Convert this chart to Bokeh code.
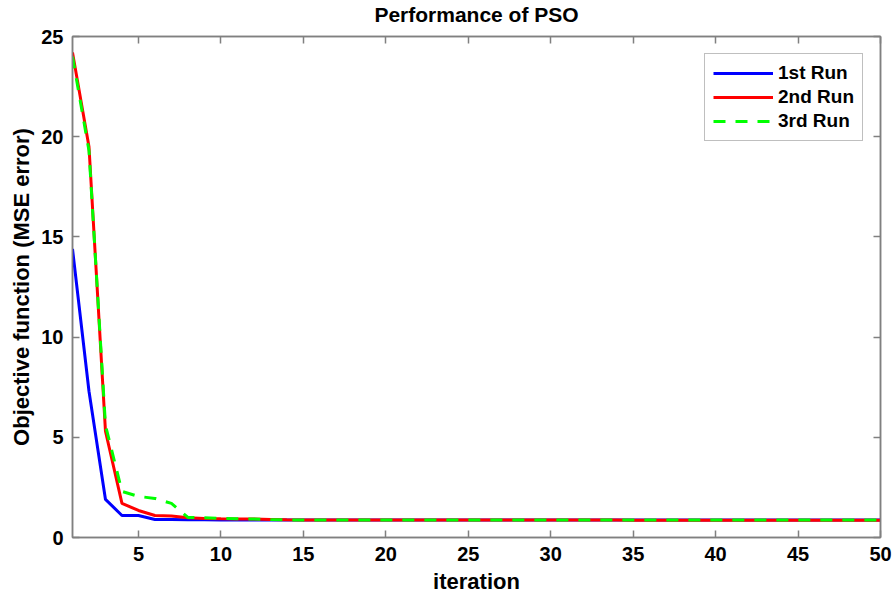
from bokeh.plotting import figure
from bokeh.models import Range1d, FixedTicker, LinearAxis, Legend, LegendItem, CustomLabelingPolicy
from bokeh.embed import file_html
from bokeh.resources import INLINE

iterations = list(range(1, 51))
run1 = [14.4, 7.3, 1.9, 1.1, 1.1, 0.9, 0.9, 0.88, 0.88, 0.87,
        0.87, 0.87, 0.87, 0.87, 0.87, 0.87, 0.87, 0.87, 0.87, 0.87,
        0.87, 0.87, 0.87, 0.87, 0.87, 0.87, 0.87, 0.87, 0.87, 0.87,
        0.87, 0.87, 0.87, 0.87, 0.87, 0.87, 0.87, 0.87, 0.87, 0.87,
        0.87, 0.87, 0.87, 0.87, 0.87, 0.87, 0.87, 0.87, 0.87, 0.87]
run2 = [24.2, 19.5, 5.3, 1.7, 1.35, 1.1, 1.07, 0.98, 0.95, 0.93,
        0.92, 0.92, 0.9, 0.88, 0.87, 0.87, 0.87, 0.87, 0.87, 0.87,
        0.87, 0.87, 0.87, 0.87, 0.87, 0.87, 0.87, 0.87, 0.87, 0.87,
        0.87, 0.87, 0.87, 0.87, 0.86, 0.86, 0.86, 0.86, 0.86, 0.86,
        0.86, 0.86, 0.86, 0.86, 0.86, 0.86, 0.86, 0.86, 0.86, 0.86]
run3 = [24.0, 19.3, 5.6, 2.3, 2.05, 1.95, 1.7, 1.0, 0.98, 0.95,
        0.93, 0.92, 0.9, 0.88, 0.87, 0.87, 0.87, 0.87, 0.87, 0.87,
        0.87, 0.87, 0.87, 0.87, 0.87, 0.87, 0.87, 0.87, 0.87, 0.87,
        0.87, 0.87, 0.87, 0.87, 0.87, 0.87, 0.87, 0.87, 0.87, 0.87,
        0.87, 0.87, 0.87, 0.87, 0.87, 0.87, 0.87, 0.87, 0.87, 0.87]
x_ticks = [5, 10, 15, 20, 25, 30, 35, 40, 45, 50]
y_ticks = [0, 5, 10, 15, 20, 25]
labels = ["1st Run", "2nd Run", "3rd Run"]

FONT = "Liberation Sans"
AX = "#808080"

p = figure(width=895, height=602, x_range=Range1d(1, 50), y_range=Range1d(0, 25),
           output_backend="svg", toolbar_location=None,
           min_border_left=72, min_border_right=15, min_border_top=0, min_border_bottom=65)
p.background_fill_color = "white"
p.border_fill_color = "white"
p.grid.visible = False
p.outline_line_color = AX
p.outline_line_width = 1.5

p.title.text = "Performance of PSO"
p.title.align = "center"
p.title.text_font = FONT
p.title.text_font_size = "21px"
p.title.text_font_style = "bold"
p.title.text_color = "black"
p.title.standoff = 0
p.title.text_line_height = 0.85

for ax in (p.xaxis[0], p.yaxis[0]):
    ax.axis_line_color = AX
    ax.axis_line_width = 1.5
    ax.major_tick_line_color = AX
    ax.major_tick_line_width = 1.5
    ax.major_tick_in = 7
    ax.major_tick_out = 0
    ax.minor_tick_line_color = None
    ax.major_label_text_font = FONT
    ax.major_label_text_font_size = "20px"
    ax.major_label_text_font_style = "bold"
    ax.major_label_text_color = "black"
    ax.axis_label_text_font = FONT
    ax.axis_label_text_font_size = "22px"
    ax.axis_label_text_font_style = "bold"
    ax.axis_label_text_color = "black"

p.xaxis[0].ticker = FixedTicker(ticks=x_ticks)
p.yaxis[0].ticker = FixedTicker(ticks=y_ticks)
p.xaxis[0].axis_label = "iteration"
p.yaxis[0].axis_label = "Objective function (MSE error)"
p.xaxis[0].major_label_standoff = 9
p.yaxis[0].major_label_standoff = 9
p.xaxis[0].axis_label_standoff = 5
p.yaxis[0].axis_label_standoff = 4

hide_all = CustomLabelingPolicy(code="""
const all = [...indices]
for (const i of all) { indices.unset(i) }
return indices
""")

for loc, ticks in (("above", x_ticks), ("right", y_ticks)):
    a = LinearAxis(ticker=FixedTicker(ticks=ticks))
    a.axis_line_color = AX
    a.axis_line_width = 1.5
    a.major_tick_line_color = AX
    a.major_tick_line_width = 1.5
    a.major_tick_in = 7
    a.major_tick_out = 0
    a.minor_tick_line_color = None
    a.major_label_policy = hide_all
    a.major_label_standoff = 0
    p.add_layout(a, loc)

r1 = p.line(iterations, run1, line_color="#0000ff", line_width=3)
r2 = p.line(iterations, run2, line_color="#ff0000", line_width=3)
r3 = p.line(iterations, run3, line_color="#00ff00", line_width=3, line_dash="12 10")

legend = Legend(items=[LegendItem(label=labels[0], renderers=[r1]),
                       LegendItem(label=labels[1], renderers=[r2]),
                       LegendItem(label=labels[2], renderers=[r3])],
                location="top_right")
legend.label_text_font = FONT
legend.label_text_font_size = "19px"
legend.label_text_font_style = "bold"
legend.label_text_color = "black"
legend.glyph_width = 60
legend.glyph_height = 22
legend.label_height = 22
legend.spacing = 2
legend.padding = 8
legend.margin = 17
legend.border_line_color = AX
legend.border_line_width = 1.5
legend.label_standoff = 5
p.add_layout(legend, "center")

open("out.html", "w").write(file_html(p, INLINE))
